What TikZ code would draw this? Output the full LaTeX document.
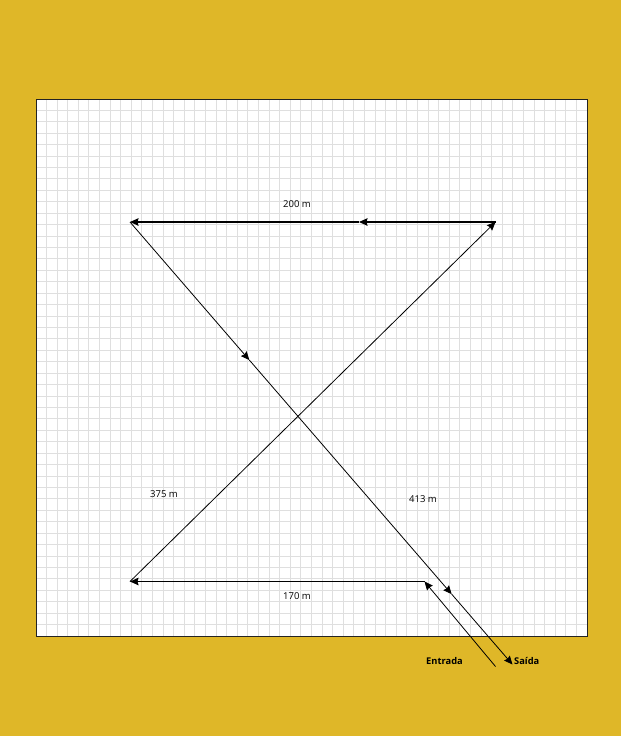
\documentclass[tikz,border=0pt]{standalone}
\usepackage{fontspec}
\setmainfont{Open Sans}
\usetikzlibrary{arrows.meta,calc}
\definecolor{mapyellow} {RGB}{223,183,40}
\definecolor{gridgray}  {RGB}{223,223,223}
\definecolor{framegray} {RGB}{35,35,35}
\tikzset{
  gridline/.style ={draw=gridgray, line width=1.3pt},
  frameline/.style={draw=framegray, line width=1pt},
  hpath/.style    ={-{Stealth[length=8.5pt,width=7.5pt,inset=1pt]}, line width=1.4pt},
  dpath/.style    ={-{Stealth[length=8.5pt,width=7.5pt,inset=1pt]}, line width=0.8pt},
  dist/.style     ={font=\fontsize{9.5}{11}\selectfont, inner sep=0pt},
  gate/.style     ={font=\fontsize{9.3}{11}\selectfont\bfseries, inner sep=0pt},
}
\begin{document}
\begin{tikzpicture}[x=1pt,y=-1pt]
  \fill[mapyellow] (0,0) rectangle (621,736);
  \fill[white] (36,99) rectangle (587,636);
  %% squared paper
  \foreach \i in {1,...,51}
    \draw[gridline] ({floor(36+\i*10.5962)+0.5},99) -- ({floor(36+\i*10.5962)+0.5},636);
  \foreach \j in {1,...,46}
    \draw[gridline] (36,{floor(99+\j*11.4255)+0.5}) -- (587,{floor(99+\j*11.4255)+0.5});
  \draw[frameline] (36,99) rectangle (587,636);

  %% route corners
  \coordinate (entry)  at (495.5,666.5);
  \coordinate (turn)   at (424.5,581.5);
  \coordinate (bl)     at (130,581.5);
  \coordinate (tr)     at (495.5,222);
  \coordinate (tl)     at (130,222);
  \coordinate (exit)   at (512.5,664.5);
  \coordinate (topmid) at (359,222);
  \coordinate (diaga)  at ($(tl)!0.312!(exit)$);
  \coordinate (diagb)  at ($(tl)!0.841!(exit)$);

  \draw[dpath] (entry) -- (turn);
  \draw[hpath] (turn) -- (bl);
  \draw[dpath] (bl) -- (tr);
  \draw[hpath] (tr) -- (topmid);
  \draw[hpath] (topmid) -- (tl);
  \draw[dpath] (tl) -- (diaga);
  \draw[dpath] (diaga) -- (diagb);
  \draw[dpath] (diagb) -- (exit);

  %% labels
  \node[dist] (top)   at (297,204.5) {200 m};
  \node[dist] (left)  at (164,494.5) {375 m};
  \node[dist] (right) at (423,499.5) {413 m};
  \node[dist] (bot)   at (297,596)   {170 m};
  \node[gate] (entrada) at (444.5,661) {Entrada};
  \node[gate, anchor=west] (saida) at (514,661) {Saída};
\end{tikzpicture}
\end{document}
